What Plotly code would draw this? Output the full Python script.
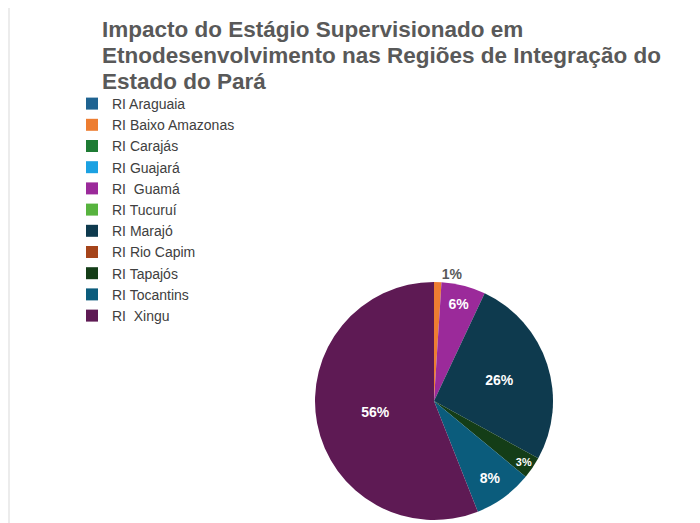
import plotly.graph_objects as go

labels = ["RI Araguaia", "RI Baixo Amazonas", "RI Carajás", "RI Guajará", "RI  Guamá",
          "RI Tucuruí", "RI Marajó", "RI Rio Capim", "RI Tapajós", "RI Tocantins", "RI  Xingu"]
values = [0, 1, 0, 0, 6, 0, 26, 0, 3, 8, 56]
colors = ["#1f6391", "#ed7d31", "#1e7b34", "#1ba1e2", "#9b2a9a", "#57b33e",
          "#0e3a4e", "#a5441a", "#143d17", "#0b5c7c", "#5e1a54"]
title_lines = ["Impacto do Estágio Supervisionado em",
               "Etnodesenvolvimento nas Regiões de Integração do",
               "Estado do Pará"]

W, H = 700, 523
OFF = 8  # page body margin offset

texts = [f"{v}%" if v > 0 else "" for v in values]
positions = ["outside" if 0 < v < 2 else "inside" for v in values]

cx, cy, r = 434 - OFF, 401 - OFF, 119

fig = go.Figure(go.Pie(
    labels=labels, values=values, marker=dict(colors=colors, line=dict(width=0)),
    sort=False, direction="clockwise", rotation=0,
    text=texts, textinfo="text", textposition=positions,
    insidetextorientation="horizontal",
    textfont=dict(family="Liberation Sans", size=14, color="white", weight="bold"),
    outsidetextfont=dict(family="Liberation Sans", size=14, color="#595959", weight="bold"),
    domain=dict(x=[(cx - r) / W, (cx + r) / W], y=[(H - cy - r) / H, (H - cy + r) / H]),
    hoverinfo="label+percent",
))

annotations = []
for i, line in enumerate(title_lines):
    annotations.append(dict(
        text=line, xref="paper", yref="paper", x=(100 - OFF) / W, xanchor="left",
        y=1 - (30 + 26 * i - OFF) / H, yanchor="middle", showarrow=False,
        font=dict(family="Liberation Sans", size=22.5, color="#595959", weight="bold"),
    ))

fig.update_layout(
    width=W, height=H,
    margin=dict(l=0, r=0, t=0, b=0),
    paper_bgcolor="white", plot_bgcolor="white",
    annotations=annotations,
    legend=dict(x=(72 - OFF) / W, xanchor="left", y=1 - (88 - OFF) / H, yanchor="top",
                font=dict(family="Liberation Sans", size=14, color="#404040"),
                itemwidth=30, tracegroupgap=0, bgcolor="rgba(0,0,0,0)"),
    shapes=[dict(type="line", xref="paper", yref="paper", x0=1 / W, x1=1 / W, y0=0, y1=1,
                 line=dict(color="#ececec", width=2))],
)

fig.write_html("out.html")
